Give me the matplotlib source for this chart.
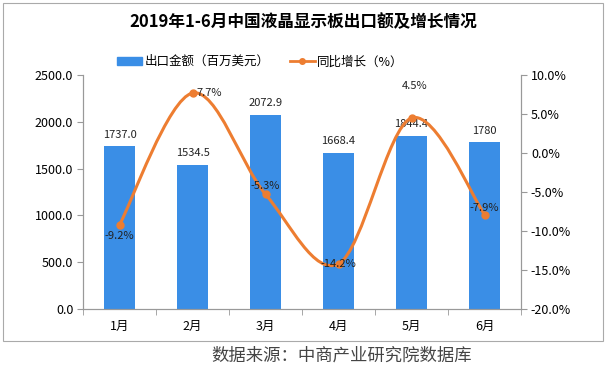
import matplotlib
matplotlib.use("Agg")
import matplotlib.pyplot as plt
from matplotlib.path import Path
from matplotlib.patches import PathPatch, Rectangle
from matplotlib.lines import Line2D
from matplotlib.ticker import FuncFormatter, FixedLocator

plt.rcParams['font.family'] = ['Noto Sans CJK SC', 'DejaVu Sans']

months = ["1月", "2月", "3月", "4月", "5月", "6月"]
export_value = [1737.0, 1534.5, 2072.9, 1668.4, 1844.4, 1780]
export_labels = ["1737.0", "1534.5", "2072.9", "1668.4", "1844.4", "1780"]
growth = [-9.2, 7.7, -5.3, -14.2, 4.5, -7.9]
growth_labels = ["-9.2%", "7.7%", "-5.3%", "-14.2%", "4.5%", "-7.9%"]

BAR_COLOR = "#3a8ee6"
LINE_COLOR = "#ed7d31"
# label offsets in points (style only)
growth_offsets = [(0, -8), (12, 0), (0, 6), (0, 0), (2, 23), (0, 5)]

fig = plt.figure(figsize=(6.06, 3.70), dpi=100)
ax = fig.add_axes([0.137, 0.165, 0.723, 0.632])
ax2 = ax.twinx()

x = list(range(len(months)))
ax.bar(x, export_value, width=0.42, color=BAR_COLOR, zorder=2)
for xi, v, lab in zip(x, export_value, export_labels):
    ax.annotate(lab, (xi, v), xytext=(0, 5), textcoords="offset points",
                ha="center", va="bottom", fontsize=8, color="#222222")

ax.set_xlim(-0.5, 5.5)
ax.set_ylim(0, 2500)
ax.set_yticks([0, 500, 1000, 1500, 2000, 2500])
ax.yaxis.set_major_formatter(FuncFormatter(lambda v, p: f"{v:.1f}"))
ax.set_xticks(x)
ax.set_xticklabels(months)
ax.xaxis.set_minor_locator(FixedLocator([i + 0.5 for i in range(-1, 6)]))
ax.tick_params(axis="x", which="major", length=0, pad=8, labelsize=9)
ax.tick_params(axis="x", which="minor", length=4, color="#999999")
ax.tick_params(axis="y", length=4, color="#999999", labelsize=9, pad=3)

ax2.set_ylim(-20, 10)
ax2.set_yticks([-20, -15, -10, -5, 0, 5, 10])
ax2.yaxis.set_major_formatter(FuncFormatter(lambda v, p: f"{v:.1f}%"))
ax2.tick_params(axis="y", length=4, color="#999999", labelsize=9, pad=3)

for a in (ax, ax2):
    a.spines["top"].set_visible(False)
    for s in ("left", "right", "bottom"):
        a.spines[s].set_color("#999999")
        a.spines[s].set_linewidth(0.8)

# smooth curve through the points (Catmull-Rom -> cubic Bezier)
pts = list(zip(x, growth))
verts = [pts[0]]
codes = [Path.MOVETO]
n = len(pts)
for i in range(n - 1):
    p0 = pts[i - 1] if i > 0 else pts[i]
    p1 = pts[i]
    p2 = pts[i + 1]
    p3 = pts[i + 2] if i + 2 < n else pts[i + 1]
    c1 = (p1[0] + (p2[0] - p0[0]) / 6, p1[1] + (p2[1] - p0[1]) / 6)
    c2 = (p2[0] - (p3[0] - p1[0]) / 6, p2[1] - (p3[1] - p1[1]) / 6)
    verts += [c1, c2, p2]
    codes += [Path.CURVE4] * 3
ax2.add_patch(PathPatch(Path(verts, codes), facecolor="none",
                        edgecolor=LINE_COLOR, lw=2.2, zorder=3))
ax2.plot(x, growth, "o", color=LINE_COLOR, ms=5, zorder=4)
for xi, v, lab, off in zip(x, growth, growth_labels, growth_offsets):
    ax2.annotate(lab, (xi, v), xytext=off, textcoords="offset points",
                 ha="center", va="center", fontsize=8, color="#222222", zorder=5)

fig.text(0.5, 0.94, "2019年1-6月中国液晶显示板出口额及增长情况",
         ha="center", va="center", fontsize=12, fontweight="bold")

handles = [Rectangle((0, 0), 1, 1, color=BAR_COLOR),
           Line2D([], [], color=LINE_COLOR, lw=2, marker="o", ms=4)]
fig.legend(handles, ["出口金额（百万美元）", "同比增长（%）"],
           loc="center", bbox_to_anchor=(0.43, 0.833), ncol=2, frameon=False,
           fontsize=9, handlelength=2.0, columnspacing=1.6, handletextpad=0.2)

fig.add_artist(Rectangle((0.005, 0.078), 0.99, 0.914, transform=fig.transFigure,
                         fill=False, edgecolor="#aaaaaa", lw=0.8))
fig.text(0.563, 0.038, "数据来源：中商产业研究院数据库", ha="center", va="center",
         fontsize=12.5, color="#444444")

fig.savefig("out.png", dpi=100)
